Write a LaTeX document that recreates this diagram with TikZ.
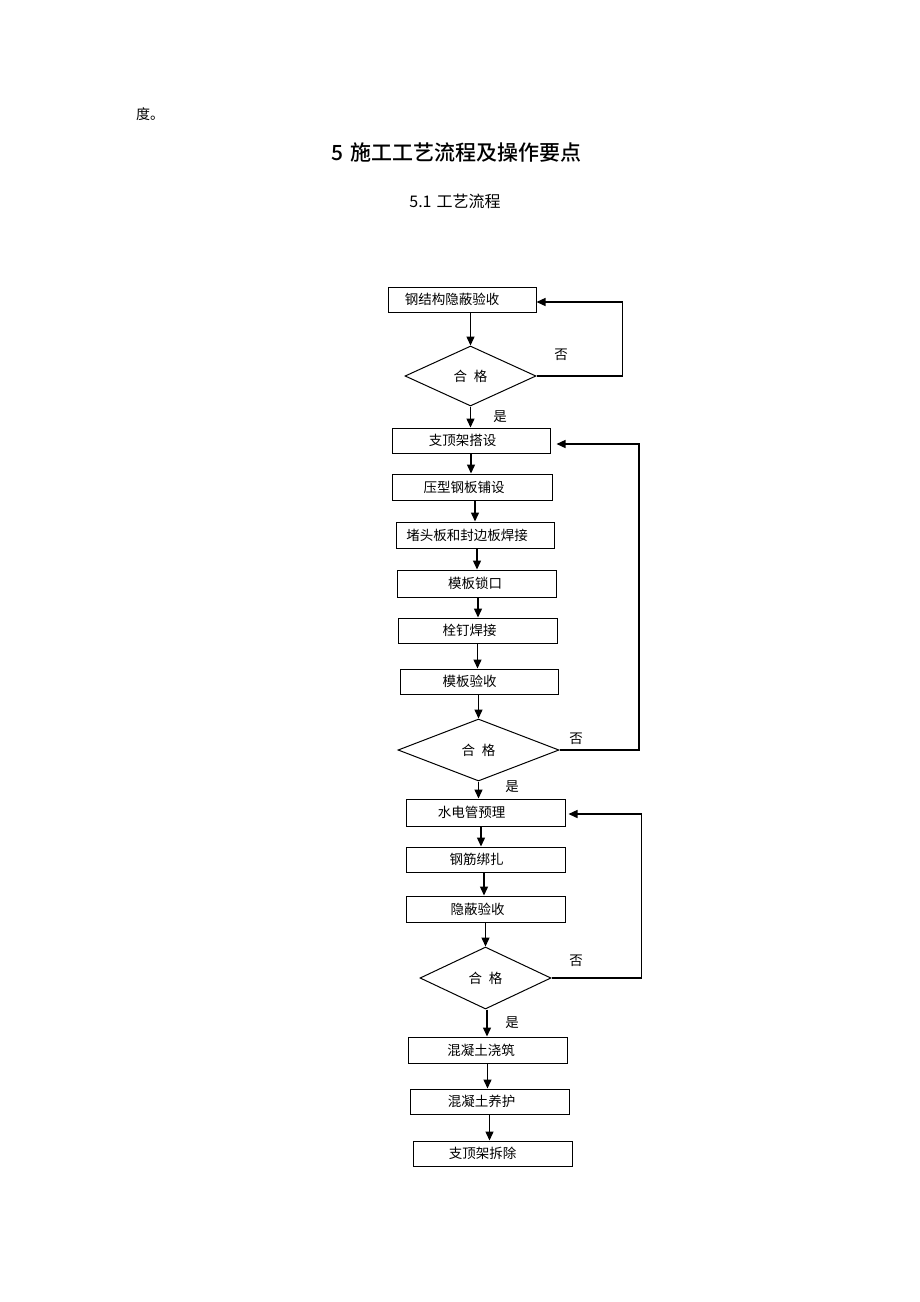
\documentclass[tikz,border=0pt]{standalone}
\usepackage{fontspec}
\setmainfont{Noto Sans CJK SC}
\newfontfamily\cjkbold{Noto Sans CJK SC Medium}
\usetikzlibrary{shapes.geometric,arrows.meta,positioning}
\tikzset{
  box/.style={draw=black,line width=1pt,rectangle,minimum height=25pt,minimum width=159pt,inner sep=0pt,font=\fontsize{13.5pt}{15pt}\selectfont},
  dia/.style={draw=black,line width=1pt,diamond,inner sep=0pt,font=\fontsize{13.5pt}{15pt}\selectfont},
  arr/.style={draw=black,line width=1.4pt,-{Triangle[length=9pt,width=8pt]}},
  lbl/.style={font=\fontsize{13.5pt}{15pt}\selectfont,inner sep=0pt}
}
\newcommand{\hg}{合\hspace{7pt}格}
\begin{document}
\begin{tikzpicture}[x=1pt,y=-1pt]
\fill[white] (0,0) rectangle (920,1302);
\useasboundingbox (0,0) rectangle (920,1302);
% header texts
\node[anchor=west,inner sep=0pt,font=\fontsize{14pt}{16pt}\selectfont] (t0) at (136,114) {度。};
\node[inner sep=0pt,font=\fontsize{21pt}{24pt}\selectfont\cjkbold] (t1) at (456.5,153) {5\hspace{8pt}施工工艺流程及操作要点};
\node[inner sep=0pt,font=\fontsize{16pt}{18pt}\selectfont] (t2) at (455,201) {5.1\hspace{5pt}工艺流程};
% boxes
\node[box,minimum width=148pt] (b1) at (462,299.5) {\hspace*{-20pt}钢结构隐蔽验收};
\node[dia,minimum width=131pt,minimum height=60pt] (d1) at (470.5,376) {\hg};
\node[box,minimum width=158pt] (b2) at (471,440.5) {\hspace*{-17pt}支顶架搭设};
\node[box,minimum width=160pt,minimum height=26pt] (b3) at (472,487) {\hspace*{-16pt}压型钢板铺设};
\node[box,minimum width=158pt,minimum height=26pt] (b4) at (475,535) {\hspace*{-16pt}堵头板和封边板焊接};
\node[box,minimum height=27pt] (b5) at (476.5,583.5) {\hspace*{-3pt}模板锁口};
\node[box] (b6) at (477.5,630.5) {\hspace*{-16pt}栓钉焊接};
\node[box,minimum width=158pt] (b7) at (479,681.5) {\hspace*{-19pt}模板验收};
\node[dia,minimum width=161pt,minimum height=62pt] (d2) at (478.5,750) {\hg};
\node[box,minimum height=27pt] (b8) at (485.5,812.5) {\hspace*{-28pt}水电管预理};
\node[box] (b9) at (485.5,859.5) {\hspace*{-18pt}钢筋绑扎};
\node[box,minimum height=26pt] (b10) at (485.5,909) {\hspace*{-16pt}隐蔽验收};
\node[dia,minimum width=131pt,minimum height=62pt] (d3) at (485.5,978) {\hg};
\node[box,minimum height=26pt] (b11) at (487.5,1050) {\hspace*{-13pt}混凝土浇筑};
\node[box] (b12) at (489.5,1101.5) {\hspace*{-16pt}混凝土养护};
\node[box] (b13) at (492.5,1153.5) {\hspace*{-20pt}支顶架拆除};
% main flow arrows
\draw[arr] (b1.south -| d1.north) -- (d1.north);
\draw[arr] (d1.south) -- (d1.south |- b2.north);
\draw[arr] (b2.south) -- (b2.south |- b3.north);
\draw[arr] ([xshift=3pt]b3.south) -- ([xshift=3pt]b3.south |- b4.north);
\draw[arr] ([xshift=2pt]b4.south) -- ([xshift=2pt]b4.south |- b5.north);
\draw[arr] ([xshift=1.5pt]b5.south) -- ([xshift=1.5pt]b5.south |- b6.north);
\draw[arr] (b6.south) -- (b6.south |- b7.north);
\draw[arr] (b7.south -| d2.north) -- (d2.north);
\draw[arr] (d2.south) -- (d2.south |- b8.north);
\draw[arr] ([xshift=-4.5pt]b8.south) -- ([xshift=-4.5pt]b8.south |- b9.north);
\draw[arr] ([xshift=-1.5pt]b9.south) -- ([xshift=-1.5pt]b9.south |- b10.north);
\draw[arr] (b10.south -| d3.north) -- (d3.north);
\draw[arr] ([xshift=1.5pt]d3.south) -- ([xshift=1.5pt]d3.south |- b11.north);
\draw[arr] (b11.south) -- (b11.south |- b12.north);
\draw[arr] (b12.south) -- (b12.south |- b13.north);
% feedback loops
\draw[arr] (d1.east) -- ++(86,0) |- ([yshift=-2.5pt]b1.east);
\draw[arr,shorten >=6pt] (d2.east) -- ++(79.5,0) |- ([yshift=-3.5pt]b2.east);
\draw[arr,shorten >=3pt] (d3.east) -- ++(90,0) |- ([yshift=-1.5pt]b8.east);
% labels
\node[lbl] (n1) at (561,355) {否};
\node[lbl] (y1) at (500,417) {是};
\node[lbl] (n2) at (576,739) {否};
\node[lbl] (y2) at (512,787) {是};
\node[lbl] (n3) at (576,961) {否};
\node[lbl] (y3) at (512,1023) {是};
\end{tikzpicture}
\end{document}
